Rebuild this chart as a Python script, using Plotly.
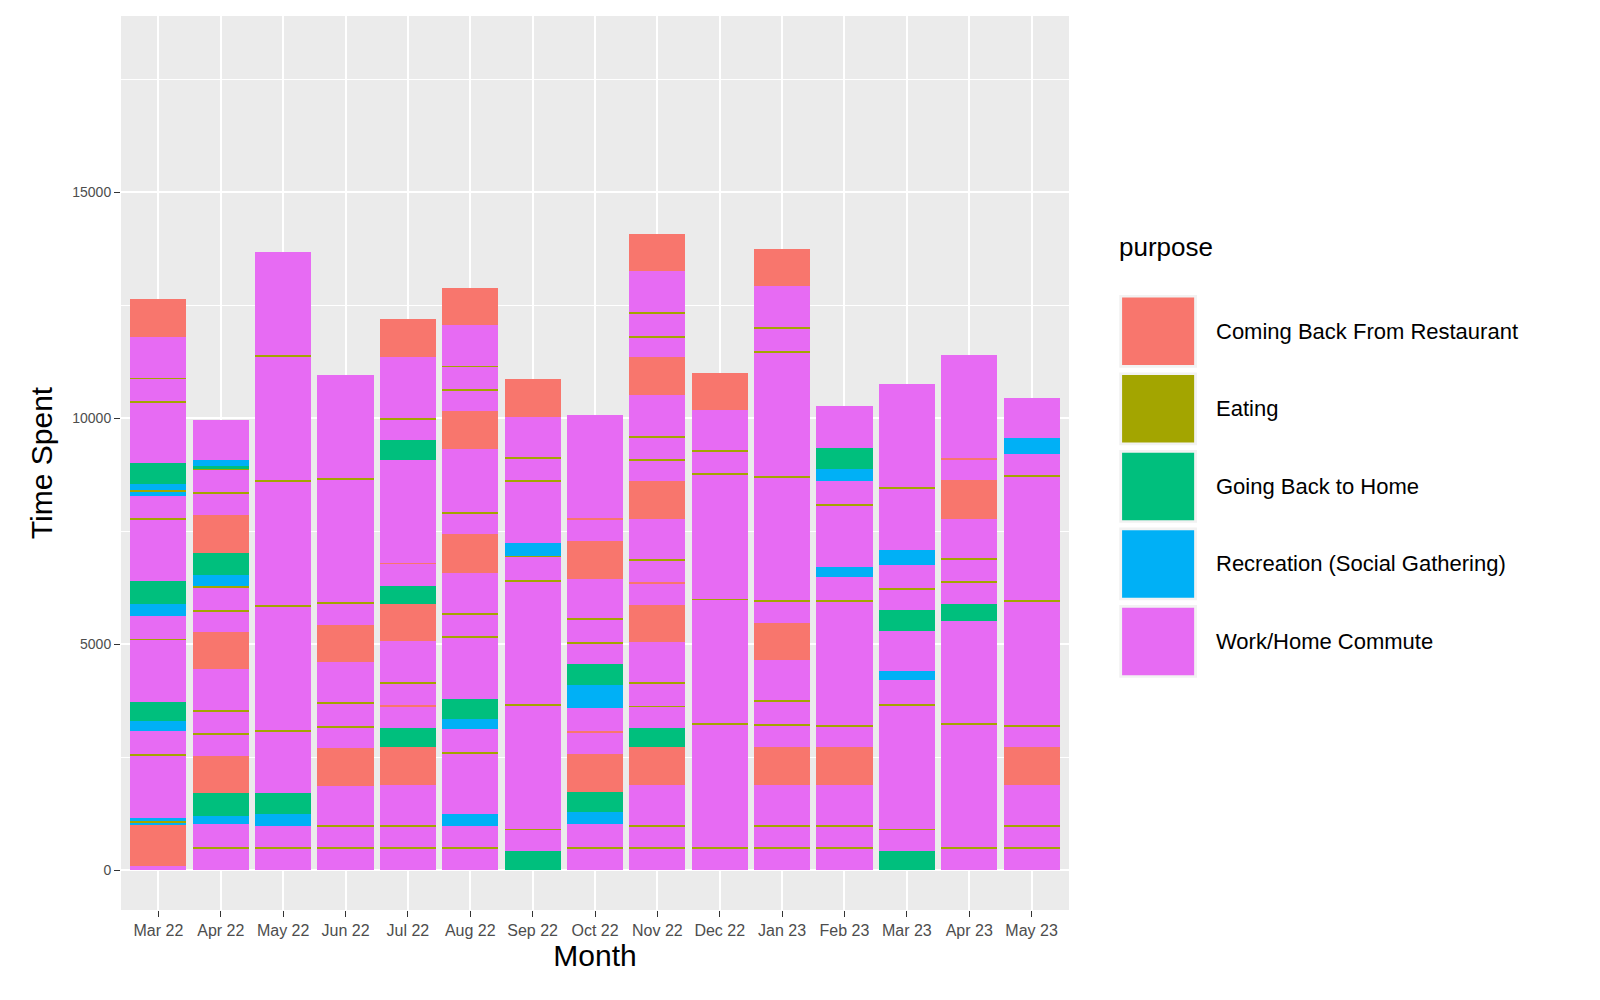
import plotly.graph_objects as go

months = ["Mar 22","Apr 22","May 22","Jun 22","Jul 22","Aug 22","Sep 22","Oct 22",
          "Nov 22","Dec 22","Jan 23","Feb 23","Mar 23","Apr 23","May 23"]

purpose_codes = ["R", "E", "G", "B", "W"]
purposes = {"R": "Coming Back From Restaurant", "E": "Eating", "G": "Going Back to Home",
            "B": "Recreation (Social Gathering)", "W": "Work/Home Commute"}
colors = {"R": "#F8766D", "E": "#A3A500", "G": "#00BF7D", "B": "#00B0F6", "W": "#E76BF3"}

y_ticks = [0, 5000, 10000, 15000]
y_tick_labels = ["0", "5000", "10000", "15000"]

# segments per month, bottom -> top: (purpose code, time spent)
mar22 = [("W",100),("R",900),("B",60),("E",30),("B",75),("W",1370),("E",30),("W",508),("B",235),("G",425),
         ("W",1362),("E",30),("W",507),("B",253),("G",506),("W",1372),("E",30),("W",497),("B",91),("E",30),
         ("B",132),("G",462),("W",1344),("E",30),("W",494),("E",30),("W",895),("R",842)]
apr22 = [("W",490),("E",30),("W",500),("B",182),("G",506),("R",814),("W",476),("E",30),("W",495),("E",30),
         ("W",895),("R",823),("W",458),("E",30),("W",503),("E",30),("B",245),("G",488),("R",841),("W",476),
         ("E",30),("W",486),("E",30),("G",60),("B",138),("W",887)]
may22 = [("W",475),("E",30),("W",471),("B",262),("G",470),("W",1362),("E",30),("W",2737),("E",30),
         ("W",2728),("E",30),("W",2737),("E",30),("W",2279)]
jun22 = [("W",475),("E",30),("W",468),("E",30),("W",856),("R",841),("W",458),("E",30),("W",504),("E",30),
         ("W",886),("R",814),("W",476),("E",30),("W",2719),("E",30),("W",2287)]
jul22 = [("W",475),("E",30),("W",468),("E",30),("W",886),("R",841),("G",416),("W",485),("R",30),("W",477),
         ("E",30),("W",895),("R",831),("G",398),("W",486),("R",30),("W",2260),("G",443),("W",459),("E",30),
         ("W",1362),("R",841)]
aug22 = [("W",475),("E",30),("W",471),("B",271),("W",1344),("E",30),("W",507),("B",217),("G",452),("W",1353),
         ("E",30),("W",477),("E",30),("W",895),("R",850),("W",458),("E",30),("W",1392),("R",850),("W",449),
         ("E",30),("W",495),("E",30),("W",895),("R",832)]
sep22 = [("G",424),("W",467),("E",30),("W",2719),("E",30),("W",2728),("E",30),("W",504),("E",30),("B",289),
         ("W",1353),("E",30),("W",477),("E",30),("W",895),("R",841)]
oct22 = [("W",475),("E",30),("W",525),("B",262),("G",443),("R",841),("W",476),("R",30),("W",498),("B",524),
         ("G",461),("W",459),("E",30),("W",494),("E",30),("W",868),("R",850),("W",467),("R",30),("W",2270)]
nov22 = [("W",475),("E",30),("W",459),("E",30),("W",895),("R",841),("G",416),("W",467),("E",30),("W",486),
         ("E",30),("W",886),("R",831),("W",468),("R",30),("W",476),("E",30),("W",895),("R",841),("W",449),
         ("E",30),("W",486),("E",30),("W",895),("R",841),("W",449),("E",30),("W",504),("E",30),("W",895),("R",813)]
dec22 = [("W",475),("E",30),("W",2719),("E",30),("W",2728),("E",30),("W",2737),("E",30),("W",494),("E",30),
         ("W",877),("R",832)]
jan23 = [("W",475),("E",30),("W",459),("E",30),("W",895),("R",832),("W",482),("E",30),("W",503),("E",30),
         ("W",896),("R",814),("W",476),("E",30),("W",2719),("E",30),("W",2736),("E",30),("W",495),("E",30),
         ("W",895),("R",823)]
feb23 = [("W",475),("E",30),("W",459),("E",30),("W",895),("R",832),("W",458),("E",30),("W",2746),("E",30),
         ("W",506),("B",226),("W",1363),("E",30),("W",497),("B",272),("G",470),("W",913)]
mar23 = [("G",424),("W",467),("E",30),("W",2728),("E",30),("W",525),("B",198),("W",896),("G",461),("W",458),
         ("E",30),("W",515),("B",335),("W",1354),("E",30),("W",2269)]
apr23 = [("W",475),("E",30),("W",2719),("E",30),("W",2270),("G",370),("W",468),("E",30),("W",485),("E",30),
         ("W",868),("R",850),("W",468),("R",30),("W",2269)]
may23 = [("W",475),("E",30),("W",459),("E",30),("W",895),("R",832),("W",458),("E",30),("W",2737),("E",30),
         ("W",2737),("E",30),("W",467),("B",353),("W",886)]

segments = [mar22, apr22, may22, jun22, jul22, aug22, sep22, oct22, nov22, dec22,
            jan23, feb23, mar23, apr23, may23]

fig = go.Figure()
for m, segs in zip(months, segments):
    for code, val in segs:
        fig.add_trace(go.Bar(x=[m], y=[val], marker_color=colors[code], marker_line_width=0,
                             showlegend=False, width=0.9,
                             name=purposes[code], hoverinfo="x+y+name"))

# ggplot-style legend with large keys (paper coordinates)
shapes, annotations = [], []
annotations.append(dict(xref="paper", yref="paper", x=1.051, y=0.723, text="purpose", showarrow=False,
                        xanchor="left", yanchor="bottom", font=dict(size=26, color="black")))
key_top, key_h, key_gap = 0.688, 0.0815, 0.0052
for i, code in enumerate(purpose_codes):
    y1 = key_top - i * (key_h + key_gap)
    y0 = y1 - key_h
    shapes.append(dict(type="rect", xref="paper", yref="paper", x0=1.053, x1=1.135, y0=y0, y1=y1,
                       fillcolor="#F2F2F2", line=dict(width=0), layer="above"))
    shapes.append(dict(type="rect", xref="paper", yref="paper", x0=1.056, x1=1.132, y0=y0 + 0.003,
                       y1=y1 - 0.003, fillcolor=colors[code], line=dict(width=0), layer="above"))
    annotations.append(dict(xref="paper", yref="paper", x=1.153, y=(y0 + y1) / 2, text=purposes[code],
                            showarrow=False, xanchor="left", yanchor="middle",
                            font=dict(size=22, color="black")))

fig.update_layout(
    barmode="stack", bargap=0.1, width=1600, height=1000,
    paper_bgcolor="white", plot_bgcolor="#EBEBEB",
    margin=dict(l=113, r=539, t=8, b=98),
    font=dict(family="Liberation Sans, Arial", color="black"),
    showlegend=False, shapes=shapes, annotations=annotations,
    xaxis=dict(title=dict(text="Month", font=dict(size=30), standoff=6),
               categoryorder="array", categoryarray=months, range=[-0.6, 14.6],
               showgrid=True, gridcolor="white", gridwidth=2, ticks="outside", ticklen=6,
               tickcolor="#333333", tickfont=dict(size=16, color="#4D4D4D"), zeroline=False),
    yaxis=dict(title=dict(text="Time Spent", font=dict(size=30), standoff=10),
               range=[-880, 18902], tickvals=y_ticks, ticktext=y_tick_labels,
               showgrid=True, gridcolor="white", gridwidth=2, ticks="outside", ticklen=6,
               tickcolor="#333333", tickfont=dict(size=14, color="#4D4D4D"), zeroline=False,
               minor=dict(tickvals=[2500, 7500, 12500, 17500], showgrid=True, gridcolor="white", gridwidth=1)),
)
fig.write_html("out.html")
